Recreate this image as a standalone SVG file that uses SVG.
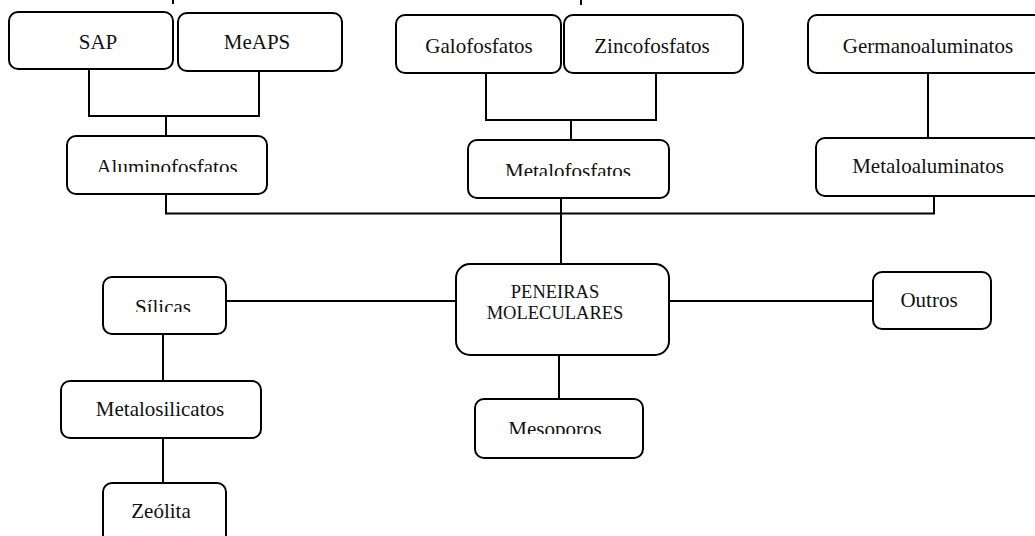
<svg xmlns="http://www.w3.org/2000/svg" width="1035" height="536" viewBox="0 0 1035 536">
<style>
.box{fill:#fff;stroke:#000;stroke-width:2}
.lbl{font-family:"Liberation Serif","Times New Roman",serif;font-size:21px;fill:#111;text-anchor:middle}
.sm{font-size:18.5px}
.ln{fill:none;stroke:#000;stroke-width:2}
</style>
<defs>
<clipPath id="cA"><rect x="60" y="130" width="220" height="42"/></clipPath>
<clipPath id="cM"><rect x="460" y="135" width="220" height="41"/></clipPath>
<clipPath id="cS"><rect x="100" y="270" width="130" height="42"/></clipPath>
<clipPath id="cP"><rect x="470" y="395" width="180" height="39"/></clipPath>
</defs>
<rect width="1035" height="536" fill="#fff"/>
<g id="connectors">
<path class="ln" d="M89 69V116H259V71M166 116V136"/>
<path class="ln" d="M486 73V120H656V73M571 120V140"/>
<path class="ln" d="M928 73V138"/>
<path class="ln" d="M166 194V213.5H934V196M561 198V264"/>
<path class="ln" d="M226 301H456M669 301H873"/>
<path class="ln" d="M163 334V381M163 438V483"/>
<path class="ln" d="M559 355V399"/>
<path class="ln" d="M173 0V4M581 0V5"/>
</g>
<g id="n-sap"><rect class="box" x="9" y="12" width="164" height="57" rx="9"/><text class="lbl" x="98" y="49">SAP</text></g>
<g id="n-meaps"><rect class="box" x="178" y="13" width="164" height="58" rx="9"/><text class="lbl" x="257" y="49">MeAPS</text></g>
<g id="n-galo"><rect class="box" x="396" y="15" width="165" height="58" rx="9"/><text class="lbl" x="479" y="53">Galofosfatos</text></g>
<g id="n-zinco"><rect class="box" x="564" y="15" width="179" height="58" rx="9"/><text class="lbl" x="652" y="53">Zincofosfatos</text></g>
<g id="n-germano"><rect class="box" x="808" y="15" width="240" height="58" rx="9"/><text class="lbl" x="928" y="53">Germanoaluminatos</text></g>
<g id="n-alumino"><rect class="box" x="67" y="136" width="200" height="58" rx="9"/><text class="lbl" x="167" y="174" clip-path="url(#cA)">Aluminofosfatos</text></g>
<g id="n-metalofos"><rect class="box" x="468" y="140" width="201" height="58" rx="9"/><text class="lbl" x="568" y="178" clip-path="url(#cM)">Metalofosfatos</text></g>
<g id="n-metaloal"><rect class="box" x="816" y="138" width="226" height="58" rx="9"/><text class="lbl" x="928" y="173">Metaloaluminatos</text></g>
<g id="n-peneiras"><rect class="box" x="456" y="264" width="213" height="91" rx="14"/><text class="lbl sm" x="555" y="298">PENEIRAS</text><text class="lbl sm" x="555" y="319">MOLECULARES</text></g>
<g id="n-silicas"><rect class="box" x="103" y="277" width="123" height="57" rx="9"/><text class="lbl" x="163" y="314" clip-path="url(#cS)">Sílicas</text></g>
<g id="n-outros"><rect class="box" x="873" y="272" width="118" height="57" rx="9"/><text class="lbl" x="929" y="307">Outros</text></g>
<g id="n-metalosil"><rect class="box" x="61" y="381" width="200" height="57" rx="9"/><text class="lbl" x="160" y="416">Metalosilicatos</text></g>
<g id="n-meso"><rect class="box" x="475" y="399" width="168" height="59" rx="9"/><text class="lbl" x="555" y="436" clip-path="url(#cP)">Mesoporos</text></g>
<g id="n-zeolita"><rect class="box" x="103" y="483" width="123" height="62" rx="9"/><text class="lbl" x="161" y="518">Zeólita</text></g>
</svg>
